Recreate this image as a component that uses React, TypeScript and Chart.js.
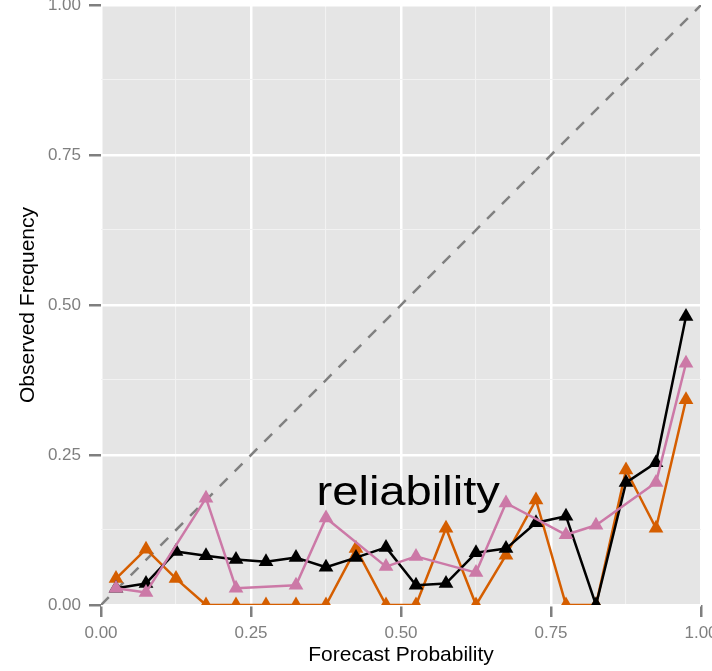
import { useEffect, useRef } from 'react';
import { Chart, registerables } from 'chart.js';

Chart.register(...registerables);

// Forecast probability bin centres (x) and observed frequencies per model (y)
const binCenters = [
  0.025, 0.075, 0.125, 0.175, 0.225, 0.275, 0.325, 0.375, 0.425, 0.475,
  0.525, 0.575, 0.625, 0.675, 0.725, 0.775, 0.825, 0.875, 0.925, 0.975,
];
const observedBlack = [
  0.028, 0.036, 0.089, 0.082, 0.076, 0.072, 0.079, 0.063, 0.079, 0.096,
  0.033, 0.036, 0.087, 0.094, 0.137, 0.148, 0.0, 0.204, 0.237, 0.481,
];
const observedOrange = [
  0.044, 0.093, 0.044, 0.0, 0.0, 0.0, 0.0, 0.0, 0.094, 0.0,
  0.0, 0.128, 0.0, 0.083, 0.175, 0.0, 0.0, 0.225, 0.128, 0.342,
];
// null = empty bin, the line joins the neighbouring bins
const observedPink = [
  0.028, 0.021, null, 0.178, 0.028, null, 0.033, 0.145, null, 0.064,
  0.081, null, 0.054, 0.170, null, 0.117, 0.133, null, 0.204, 0.403,
];
// perfect reliability reference line
const diagonalX = [0, 1];
const diagonalY = [0, 1];

const gridValues = [0, 0.125, 0.25, 0.375, 0.5, 0.625, 0.75, 0.875, 1];
const majorTicks = [0, 0.25, 0.5, 0.75, 1];
const tickLabels = ['0.00', '0.25', '0.50', '0.75', '1.00'];

const xTitle = 'Forecast Probability';
const yTitle = 'Observed Frequency';
const annotationText = 'reliability';
const annotationAt = { x: 0.512, y: 0.167 };

const FONT = "'Liberation Sans', Arial, Helvetica, sans-serif";
const PANEL_TOP = 5;

const isMajor = (v: number | undefined) =>
  v !== undefined && majorTicks.some((m) => Math.abs(m - v) < 1e-9);

const labelFor = (v: number) => {
  const i = majorTicks.findIndex((m) => Math.abs(m - v) < 1e-9);
  return i >= 0 ? tickLabels[i] : '';
};

const toPoints = (ys: (number | null)[]) =>
  binCenters.map((x, i) => ({ x, y: ys[i] }));

const panelPlugin = {
  id: 'panelAndLabel',
  // let the panel run up to the top edge; the top tick label may be cut
  afterLayout(chart: any) {
    const a = chart.chartArea;
    a.top = PANEL_TOP;
    a.height = a.bottom - a.top;
    const y = chart.scales.y;
    y.top = PANEL_TOP;
    y.height = y.bottom - y.top;
    y.configure();
  },
  beforeDraw(chart: any) {
    const { ctx, chartArea: a } = chart;
    ctx.save();
    ctx.fillStyle = '#E5E5E5';
    ctx.fillRect(a.left, a.top, a.right - a.left, a.bottom - a.top);
    ctx.restore();
  },
  afterDatasetsDraw(chart: any) {
    const { ctx, scales } = chart;
    const px = scales.x.getPixelForValue(annotationAt.x);
    const py = scales.y.getPixelForValue(annotationAt.y);
    ctx.save();
    ctx.translate(px, py);
    ctx.scale(1.15, 1);
    ctx.font = `41px ${FONT}`;
    ctx.fillStyle = '#000000';
    ctx.textAlign = 'center';
    ctx.textBaseline = 'alphabetic';
    ctx.fillText(annotationText, 0, 0);
    ctx.restore();
  },
};

function axis(isX: boolean, title: string) {
  return {
    type: 'linear' as const,
    min: 0,
    max: 1,
    afterBuildTicks: (s: any) => {
      s.ticks = gridValues.map((v) => ({ value: v }));
    },
    afterFit: (s: any) => {
      if (isX) s.height = 66;
      else s.width = 101;
      s.paddingTop = 0;
      s.paddingBottom = 0;
      s.paddingLeft = 0;
      s.paddingRight = 0;
    },
    border: { display: false },
    grid: {
      color: (c: any) => (isMajor(c.tick?.value) ? '#FFFFFF' : '#F2F2F2'),
      lineWidth: (c: any) => (isMajor(c.tick?.value) ? 2.5 : 1.1),
      tickColor: (c: any) => (isMajor(c.tick?.value) ? '#7F7F7F' : 'rgba(0,0,0,0)'),
      tickWidth: 2.5,
      tickLength: 12,
      drawTicks: true,
    },
    ticks: {
      autoSkip: false,
      maxRotation: 0,
      minRotation: 0,
      color: '#7F7F7F',
      font: { family: FONT, size: 17 },
      padding: isX ? 6 : 8,
      callback: (v: any) => labelFor(Number(v)),
    },
    title: {
      display: true,
      text: title,
      color: '#000000',
      font: { family: FONT, size: 21 },
      padding: isX ? { top: 0, bottom: 3 } : { top: 16, bottom: 0 },
    },
  };
}

export default function App() {
  const canvasRef = useRef<HTMLCanvasElement | null>(null);

  useEffect(() => {
    if (!canvasRef.current) return;
    const seriesStyle = (color: string, order: number) => ({
      borderColor: color,
      backgroundColor: color,
      borderWidth: 2.5,
      pointStyle: 'triangle' as const,
      pointRadius: 8.5,
      pointBorderWidth: 0,
      pointBackgroundColor: color,
      borderJoinStyle: 'round' as const,
      tension: 0,
      spanGaps: true,
      clip: 0,
      order,
    });

    const chart = new Chart(canvasRef.current, {
      type: 'line',
      data: {
        datasets: [
          {
            data: diagonalX.map((x, i) => ({ x, y: diagonalY[i] })),
            borderColor: '#808080',
            borderWidth: 2.5,
            borderDash: [11, 10],
            pointRadius: 0,
            clip: 0,
            order: 4,
          },
          { data: toPoints(observedOrange), ...seriesStyle('#D55E00', 3) },
          { data: toPoints(observedBlack), ...seriesStyle('#000000', 2) },
          { data: toPoints(observedPink), ...seriesStyle('#CC79A7', 1) },
        ] as any,
      },
      options: {
        responsive: false,
        animation: false,
        events: [],
        layout: { padding: { top: PANEL_TOP, right: 11, bottom: 0, left: 0 } },
        plugins: {
          legend: { display: false },
          tooltip: { enabled: false },
        },
        scales: {
          x: axis(true, xTitle),
          y: axis(false, yTitle),
        } as any,
      },
      plugins: [panelPlugin],
    });
    return () => chart.destroy();
  }, []);

  return (
    <div style={{ position: 'absolute', left: 0, top: 0, width: 712, height: 671 }}>
      <canvas ref={canvasRef} width={712} height={671} />
    </div>
  );
}
